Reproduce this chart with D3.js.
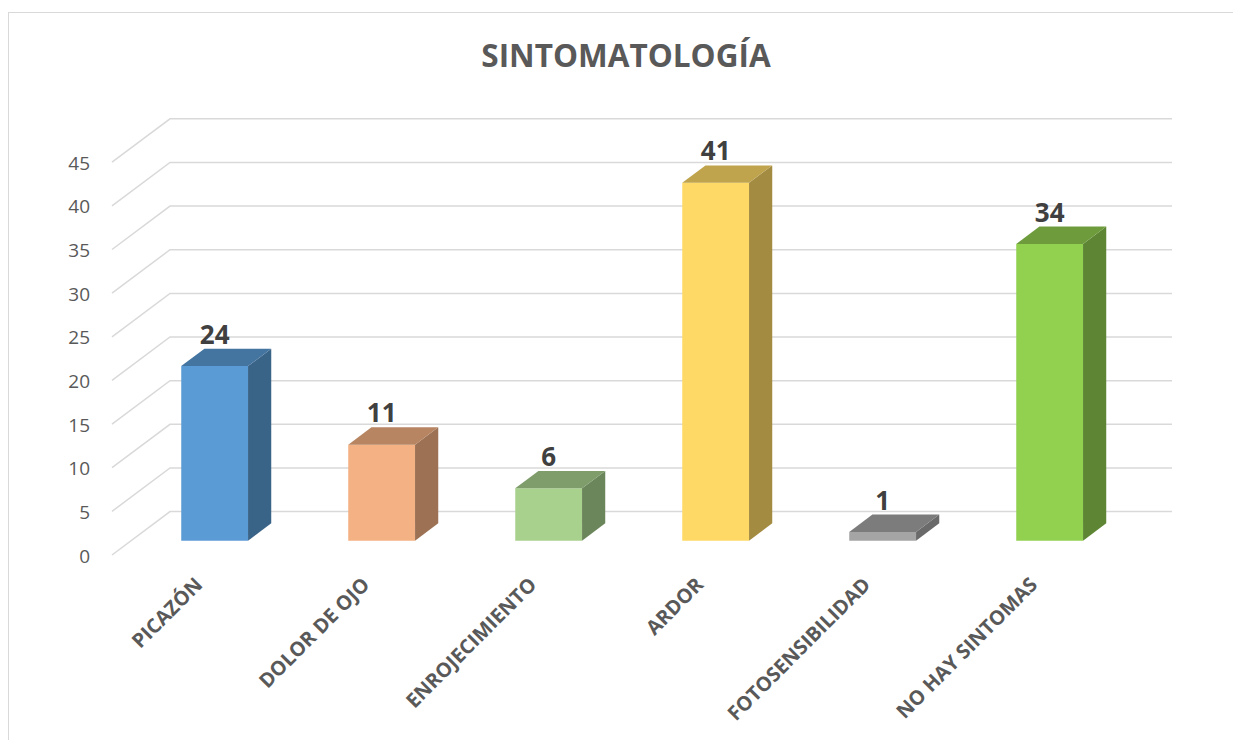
<!DOCTYPE html>
<html>
<head>
<meta charset="utf-8">
<script src="https://cdn.jsdelivr.net/npm/d3@7"></script>
<style>
  html, body { margin: 0; padding: 0; background: #ffffff; }
  svg { display: block; }
</style>
</head>
<body>
<svg id="chart" width="1233" height="740"></svg>
<script>
// ---- data ----
const categories = ["PICAZÓN", "DOLOR DE OJO", "ENROJECIMIENTO", "ARDOR", "FOTOSENSIBILIDAD", "NO HAY SINTOMAS"];
const barValues  = [20, 11, 6, 41, 1, 34];          // bar heights as drawn
const dataLabels = ["24", "11", "6", "41", "1", "34"]; // labels as printed
const yTicks     = [0, 5, 10, 15, 20, 25, 30, 35, 40, 45];
const title      = "SINTOMATOLOGÍA";
const barColors  = ["#5B9BD5", "#F4B183", "#A9D18E", "#FFD966", "#A5A5A5", "#92D050"];

// ---- layout ----
const svg = d3.select("#chart");
const X0 = 112, Y0 = 555;          // front-left floor corner
const DX = 58, DY = 43.4;          // depth offset (full depth)
const plotW = 1002;
const d1 = 0.33, d2 = 0.73;        // bar front / back depth

const x = d3.scaleBand().domain(categories).range([0, plotW]).paddingInner(0.6).paddingOuter(0.3);
const y = d3.scaleLinear().domain([0, 45]).range([0, 392.8]);

const proj = (px, v, d) => [X0 + px + d * DX, Y0 - y(v) - d * DY];
const pts = arr => arr.map(p => p.join(",")).join(" ");

// chart border
svg.append("rect").attr("x", 8.5).attr("y", 12.5).attr("width", 1240).attr("height", 740)
  .attr("fill", "#fff").attr("stroke", "#D9D9D9").attr("stroke-width", 1);

// title
svg.append("text").attr("x", 626).attr("y", 67).attr("text-anchor", "middle")
  .attr("font-family", "'Open Sans', sans-serif").attr("font-weight", "bold")
  .attr("font-size", 31.5).attr("fill", "#595959").text(title);

// gridlines (wall + back)
const grid = svg.append("g");
yTicks.forEach(t => {
  grid.append("polyline")
    .attr("points", pts([proj(0, t, 0), proj(0, t, 1), proj(plotW, t, 1)]))
    .attr("fill", "none").attr("stroke", "#D9D9D9").attr("stroke-width", 1.5);
});

// y tick labels
svg.append("g").selectAll("text").data(yTicks).join("text")
  .attr("x", 90).attr("y", d => proj(0, d, 0)[1] + 1)
  .attr("dy", "0.35em").attr("text-anchor", "end")
  .attr("font-family", "'Open Sans', sans-serif").attr("font-size", 19)
  .attr("fill", "#595959").text(d => d);

// bars
const shade = (c, k) => { const r = d3.rgb(c); return d3.rgb(r.r * k, r.g * k, r.b * k).formatHex(); };
const bars = svg.append("g");
categories.forEach((c, i) => {
  const v = barValues[i];
  const xa = x(c), xb = x(c) + x.bandwidth();
  const col = barColors[i];
  // front
  bars.append("polygon")
    .attr("points", pts([proj(xa, 0, d1), proj(xb, 0, d1), proj(xb, v, d1), proj(xa, v, d1)]))
    .attr("fill", col);
  // side
  bars.append("polygon")
    .attr("points", pts([proj(xb, 0, d1), proj(xb, 0, d2), proj(xb, v, d2), proj(xb, v, d1)]))
    .attr("fill", shade(col, 0.64));
  // top
  bars.append("polygon")
    .attr("points", pts([proj(xa, v, d1), proj(xb, v, d1), proj(xb, v, d2), proj(xa, v, d2)]))
    .attr("fill", shade(col, 0.75));
  // data label
  const cx = proj((xa + xb) / 2, v, d1)[0];
  svg.append("text").attr("x", cx).attr("y", proj(xa, v, d2)[1] - 5)
    .attr("text-anchor", "middle")
    .attr("font-family", "'Open Sans', sans-serif").attr("font-weight", "bold")
    .attr("font-size", 26).attr("fill", "#404040").text(dataLabels[i]);
  // category label
  const ax = cx - 11, ay = 586;
  svg.append("text").attr("transform", `translate(${ax},${ay}) rotate(-45)`)
    .attr("text-anchor", "end")
    .attr("font-family", "'Open Sans', sans-serif").attr("font-weight", "bold")
    .attr("font-size", 20).attr("fill", "#595959").text(c);
});
</script>
</body>
</html>
